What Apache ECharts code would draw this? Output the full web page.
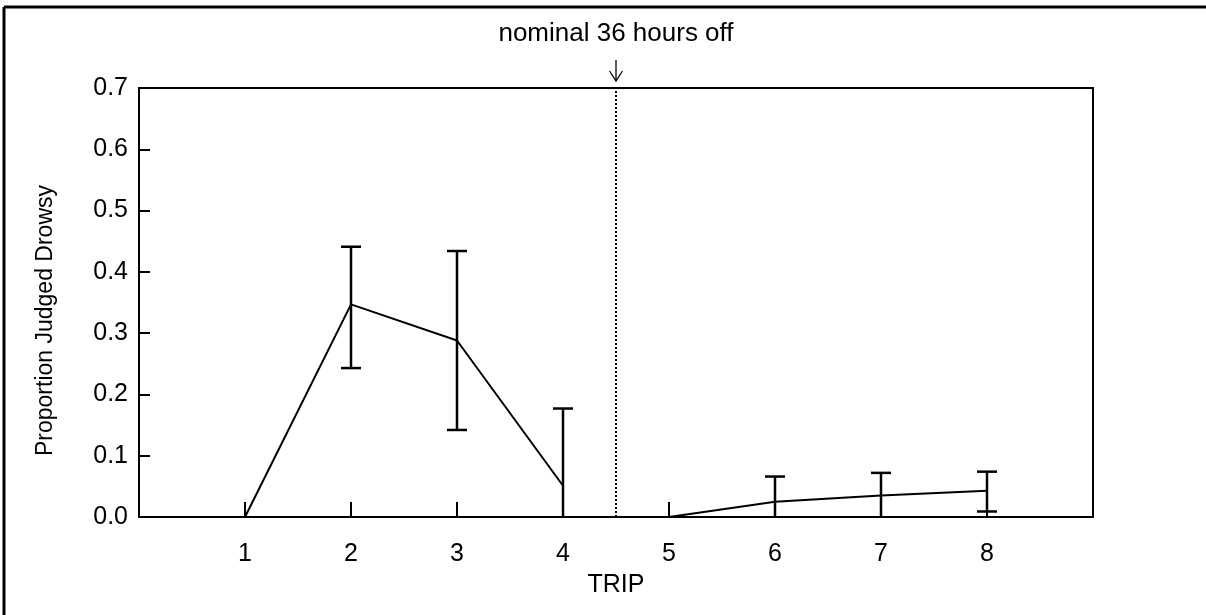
<!DOCTYPE html>
<html>
<head>
<meta charset="utf-8">
<script src="https://cdn.jsdelivr.net/npm/echarts@6/dist/echarts.min.js"></script>
<style>
  html, body { margin: 0; padding: 0; background: #fff; }
  #chart { width: 1206px; height: 615px; }
</style>
</head>
<body>
<div id="chart"></div>
<script>
var trips = [1, 2, 3, 4, 5, 6, 7, 8];
var means = [0, 0.347, 0.288, 0.051, 0, 0.025, 0.035, 0.043];
var lower = [0, 0.243, 0.142, 0, 0, 0, 0, 0.009];
var upper = [0, 0.441, 0.434, 0.177, 0, 0.066, 0.072, 0.074];
var yTicks = [0, 0.1, 0.2, 0.3, 0.4, 0.5, 0.6, 0.7];
var breakAt = 4.5; // nominal 36 hours off

var font = 'Liberation Sans, Arial, sans-serif';

// line split in two pieces at the break
var before = [], after = [], bars = [];
trips.forEach(function (t, i) {
    if (t < breakAt) before.push([t, means[i]]);
    else after.push([t, means[i]]);
    if (upper[i] > lower[i]) bars.push([t, lower[i], upper[i]]);
});

function renderErr(params, api) {
    var x = api.value(0);
    var lo = api.coord([x, api.value(1)]);
    var hi = api.coord([x, api.value(2)]);
    var half = 10;
    var st = { stroke: '#000', lineWidth: 2.5 };
    var kids = [
        { type: 'line', shape: { x1: lo[0], y1: lo[1], x2: hi[0], y2: hi[1] }, style: st },
        { type: 'line', shape: { x1: hi[0] - half, y1: hi[1], x2: hi[0] + half, y2: hi[1] }, style: st }
    ];
    // lower cap sits on the axis when it is 0, so leave it out
    if (api.value(1) > 0) {
        kids.push({ type: 'line', shape: { x1: lo[0] - half, y1: lo[1], x2: lo[0] + half, y2: lo[1] }, style: st });
    }
    return { type: 'group', children: kids };
}

var chart = echarts.init(document.getElementById('chart'));
chart.setOption({
    animation: false,
    backgroundColor: '#fff',
    grid: {
        left: 139, top: 88, right: 113, bottom: 98,
        show: true, borderColor: '#000', borderWidth: 2
    },
    graphic: [
        { type: 'line', shape: { x1: 4, y1: 7, x2: 1206, y2: 7 }, style: { stroke: '#000', lineWidth: 3 } },
        { type: 'line', shape: { x1: 4, y1: 7, x2: 4, y2: 615 }, style: { stroke: '#000', lineWidth: 3 } },
        {
            type: 'text', x: 616, y: 21,
            style: { text: 'nominal 36 hours off', font: '26px ' + font, fill: '#000', align: 'center' }
        },
        // little arrow pointing down at the break
        { type: 'line', shape: { x1: 616, y1: 60, x2: 616, y2: 81 }, style: { stroke: '#000', lineWidth: 1.3 } },
        { type: 'polyline', shape: { points: [[609.5, 71], [616, 81], [622.5, 71]] }, style: { stroke: '#000', lineWidth: 1.3, fill: null } }
    ],
    xAxis: {
        type: 'value',
        min: 0, max: 9, interval: 1,
        name: 'TRIP',
        nameLocation: 'middle',
        nameGap: 56,
        nameTextStyle: { fontFamily: font, fontSize: 25, color: '#000' },
        axisLine: { show: true, lineStyle: { color: '#000', width: 2 } },
        axisTick: { show: true, inside: true, length: 15, lineStyle: { color: '#000', width: 2 } },
        axisLabel: {
            margin: 25, fontFamily: font, fontSize: 25, color: '#000',
            formatter: function (v) { return (v >= 1 && v <= 8) ? String(v) : ''; }
        },
        splitLine: { show: false }
    },
    yAxis: {
        type: 'value',
        min: 0, max: 0.7, interval: 0.1,
        name: 'Proportion Judged Drowsy',
        nameLocation: 'middle',
        nameGap: 82,
        nameTextStyle: { fontFamily: font, fontSize: 23, color: '#000', padding: [0, 36, 0, 0] },
        axisLine: { show: true, lineStyle: { color: '#000', width: 2 } },
        axisTick: { show: true, inside: true, length: 11, lineStyle: { color: '#000', width: 2 } },
        axisLabel: {
            margin: 11, fontFamily: font, fontSize: 25, color: '#000',
            formatter: function (v) { return v.toFixed(1); }
        },
        splitLine: { show: false }
    },
    series: [
        {
            type: 'line', data: before, symbol: 'none',
            lineStyle: { color: '#000', width: 2 },
            markLine: {
                silent: true, symbol: 'none', label: { show: false },
                lineStyle: { color: '#000', width: 2, type: [2, 2] },
                data: [{ xAxis: breakAt }]
            }
        },
        {
            type: 'line', data: after, symbol: 'none',
            lineStyle: { color: '#000', width: 2 }
        },
        {
            type: 'custom', renderItem: renderErr, data: bars,
            encode: { x: 0, y: [1, 2] }
        }
    ]
});
</script>
</body>
</html>
